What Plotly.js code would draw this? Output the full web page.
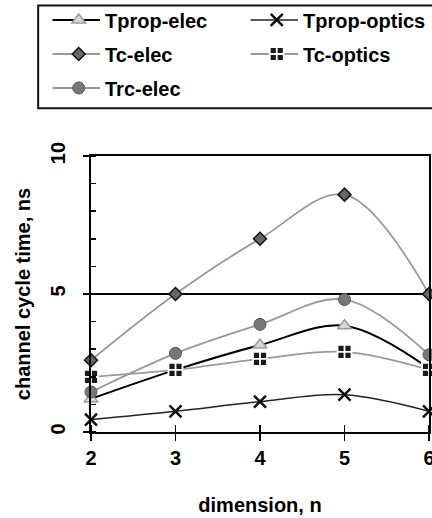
<!DOCTYPE html>
<html>
<head>
<meta charset="utf-8">
<script src="https://cdn.plot.ly/plotly-3.0.1.min.js"></script>
<style>html,body{margin:0;padding:0;background:#fff;}#chart{width:432px;height:518px;}</style>
</head>
<body>
<div id="chart"></div>
<script>
const dimension = [2, 3, 4, 5, 6];
const tpropElec = [1.2, 2.25, 3.15, 3.85, 2.3];
const tpropOptics = [0.45, 0.75, 1.1, 1.35, 0.75];
const tcElec = [2.6, 5.0, 7.0, 8.6, 5.0];
const tcOptics = [2.0, 2.25, 2.65, 2.9, 2.25];
const trcElec = [1.45, 2.85, 3.9, 4.8, 2.8];
const seriesNames = ['Tprop-elec', 'Tprop-optics', 'Tc-elec', 'Tc-optics', 'Trc-elec'];

const FONT = 'Liberation Sans, Arial, sans-serif';
const TXT = {family: FONT, size: 20, color: '#000', weight: 'bold'};

const traces = [
  {x: dimension, y: tpropElec, name: seriesNames[0], legend: 'legend',
   line: {color: '#000', width: 2, shape: 'spline'},
   marker: {symbol: 'triangle-up', size: 12, color: '#d8d8d8', line: {color: '#9a9a9a', width: 1.5}}},
  {x: dimension, y: tpropOptics, name: seriesNames[1], legend: 'legend2',
   line: {color: '#222', width: 1.5, shape: 'spline'},
   marker: {symbol: 'x-thin', size: 12, color: '#111', line: {color: '#111', width: 2.5}}},
  {x: dimension, y: tcElec, name: seriesNames[2], legend: 'legend3',
   line: {color: '#999', width: 1.8, shape: 'spline'},
   marker: {symbol: 'diamond', size: 10, color: '#666', line: {color: '#111', width: 1.5}}},
  {x: dimension, y: tcOptics, name: seriesNames[3], legend: 'legend4',
   line: {color: '#999', width: 1.8, shape: 'spline'},
   marker: {symbol: 'square-cross', size: 14, color: '#1a1a1a', line: {color: '#fff', width: 1.8}}},
  {x: dimension, y: trcElec, name: seriesNames[4], legend: 'legend5',
   line: {color: '#999', width: 1.8, shape: 'spline'},
   marker: {symbol: 'circle', size: 12, color: '#777', line: {color: '#555', width: 1}}}
];
traces.forEach(t => { t.mode = 'lines+markers'; t.cliponaxis = false; });

function leg(x, y) {
  return {orientation: 'v', x: x, xanchor: 'left', y: y, yanchor: 'middle',
    itemwidth: 42.5, font: TXT, bgcolor: 'rgba(0,0,0,0)', borderwidth: 0};
}
const col1 = -0.1136, col2 = 0.4705;
const row1 = 1.4874, row2 = 1.3646, row3 = 1.2419;

const layout = {
  width: 432, height: 518,
  margin: {l: 91, r: 2, t: 155, b: 86},
  paper_bgcolor: '#fff', plot_bgcolor: '#fff',
  font: TXT,
  showlegend: true,
  legend: leg(col1, row1),
  legend2: leg(col2, row1),
  legend3: leg(col1, row2),
  legend4: leg(col2, row2),
  legend5: leg(col1, row3),
  shapes: [
    {type: 'rect', xref: 'paper', yref: 'paper', x0: -0.1563, x1: 1.2, y0: 1.1733, y1: 1.545,
     line: {color: '#111', width: 2}, fillcolor: 'rgba(0,0,0,0)', layer: 'below'}
  ],
  xaxis: {
    range: [2, 6], dtick: 1, tick0: 2,
    showline: true, linecolor: '#000', linewidth: 2, mirror: true,
    showgrid: false, zeroline: false,
    ticks: 'outside', ticklen: 7, tickwidth: 1.5, tickcolor: '#000',
    minor: {ticks: 'inside', ticklen: 7, tickwidth: 1.5, tickcolor: '#000', dtick: 1, tick0: 2, showgrid: false},
    ticklabelstandoff: 0, ticklabeloverflow: 'allow',
    tickfont: TXT,
    title: {text: 'dimension, n', font: TXT, standoff: 30}
  },
  yaxis: {
    range: [0, 10], dtick: 5, tick0: 0,
    showline: true, linecolor: '#000', linewidth: 2, mirror: true,
    showgrid: true, gridcolor: '#000', gridwidth: 1.5, zeroline: false,
    ticks: 'outside', ticklen: 6, tickwidth: 1.5, tickcolor: '#000',
    minor: {ticks: 'inside', ticklen: 5, tickwidth: 1.5, tickcolor: '#000', dtick: 1, showgrid: false},
    tickangle: -90, ticklabelstandoff: 10,
    tickfont: TXT,
    title: {text: 'channel cycle time, ns', font: TXT, standoff: 11}
  }
};

Plotly.newPlot('chart', traces, layout, {displayModeBar: false, staticPlot: true}).then(function (gd) {
  // lengthen legend sample lines so they run through the marker on both sides, as in the original legend
  gd.querySelectorAll('.legendlines path').forEach(function (p) { p.setAttribute('d', 'M-7.5,0h55'); });
});
</script>
</body>
</html>
